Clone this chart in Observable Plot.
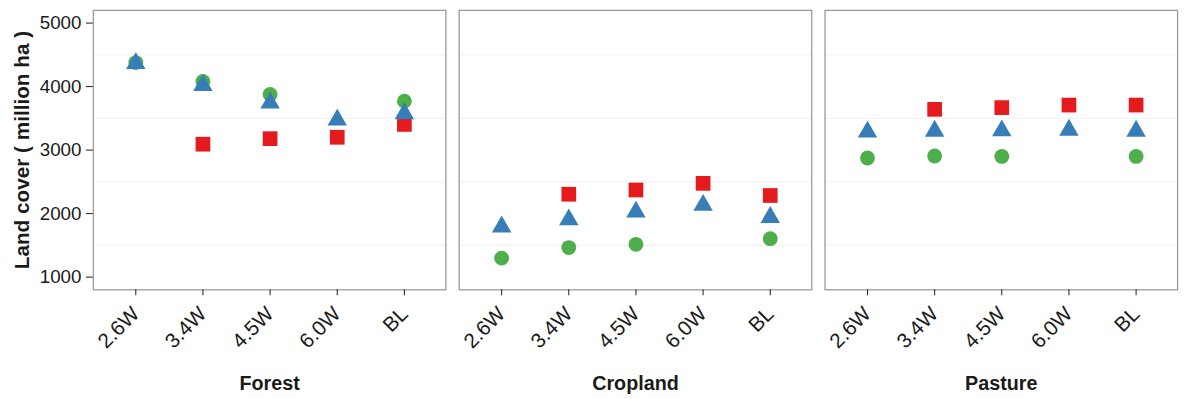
<!DOCTYPE html>
<html>
<head>
<meta charset="utf-8">
<script src="https://cdn.jsdelivr.net/npm/d3@7"></script>
<script src="https://cdn.jsdelivr.net/npm/@observablehq/plot@0.6"></script>
<style>
  html, body { margin: 0; padding: 0; background: #fff; overflow: hidden; }
  #chart { width: 1185px; height: 399px; overflow: hidden; }
  svg { font-family: "Liberation Sans", Arial, sans-serif; }
  g[aria-label="y-axis label"] text { font-weight: bold; font-size: 21px; }
  g[aria-label="fx-axis tick label"] text { font-weight: bold; }
</style>
</head>
<body>
<div id="chart"></div>
<script>
// Categories
const scenarios = ["2.6W", "3.4W", "4.5W", "6.0W", "BL"];
const landTypes = ["Forest", "Cropland", "Pasture"];
const yTicks = [1000, 2000, 3000, 4000, 5000];
const minorGrid = [1500, 2500, 3500, 4500];

// Green circles (null = not shown)
const circleForest   = [4378, 4082, 3876, null, 3771];
const circleCropland = [1299, 1465, 1516, null, 1605];
const circlePasture  = [2876, 2907, 2900, null, 2900];

// Blue triangles
const triangleForest   = [4365, 4020, 3742, 3476, 3575];
const triangleCropland = [1792, 1905, 2025, 2134, 1942];
const trianglePasture  = [3285, 3300, 3305, 3316, 3300];

// Red squares
const squareForest   = [null, 3093, 3180, 3202, 3404];
const squareCropland = [null, 2305, 2372, 2476, 2285];
const squarePasture  = [null, 3642, 3669, 3709, 3709];

function rows(land, values) {
  return scenarios.map((s, i) => ({land, scenario: s, value: values[i]}))
                  .filter(d => d.value != null);
}
const circles = [
  ...rows("Forest", circleForest), ...rows("Cropland", circleCropland), ...rows("Pasture", circlePasture)
];
const triangles = [
  ...rows("Forest", triangleForest), ...rows("Cropland", triangleCropland), ...rows("Pasture", trianglePasture)
];
const squares = [
  ...rows("Forest", squareForest), ...rows("Cropland", squareCropland), ...rows("Pasture", squarePasture)
];

const chart = Plot.plot({
  width: 1200,
  height: 399,
  marginLeft: 94,
  marginRight: 8,
  marginTop: 10,
  marginBottom: 106,
  style: {fontFamily: "Liberation Sans, Arial, sans-serif", color: "#1a1a1a", background: "#fff"},
  fx: {domain: landTypes, paddingInner: 0.0364, paddingOuter: 0, round: false, axis: null, label: null},
  x: {type: "point", domain: scenarios, padding: 0.6, axis: null, label: null},
  y: {domain: [800, 5200], axis: null, label: null},
  marks: [
    Plot.ruleY(minorGrid, {stroke: "#f3f3f3", strokeWidth: 1.2}),
    Plot.frame({stroke: "#9a9a9a", strokeWidth: 1.3}),
    Plot.dot(circles, {fx: "land", x: "scenario", y: "value", symbol: "circle", fill: "#4DAF4A", r: 7.5}),
    Plot.dot(squares, {fx: "land", x: "scenario", y: "value", symbol: "square", fill: "#E41A1C", r: 8.4}),
    Plot.dot(triangles, {fx: "land", x: "scenario", y: "value", symbol: "triangle", fill: "#377EB8", r: 7.3}),
    Plot.axisY({ticks: yTicks, tickFormat: d => String(d), tickSize: 7, tickPadding: 5, fontSize: 19, stroke: "#1a1a1a",
                label: "Land cover ( million ha )", labelAnchor: "center", labelArrow: "none", labelOffset: 80}),
    Plot.axisX({tickSize: 6, tickPadding: 15, tickRotate: -45, fontSize: 21, stroke: "#1a1a1a", label: null}),
    Plot.axisFx({anchor: "bottom", tickSize: 0, tickPadding: 87, fontSize: 20, label: null})
  ]
});
document.getElementById("chart").appendChild(chart);
</script>
</body>
</html>
